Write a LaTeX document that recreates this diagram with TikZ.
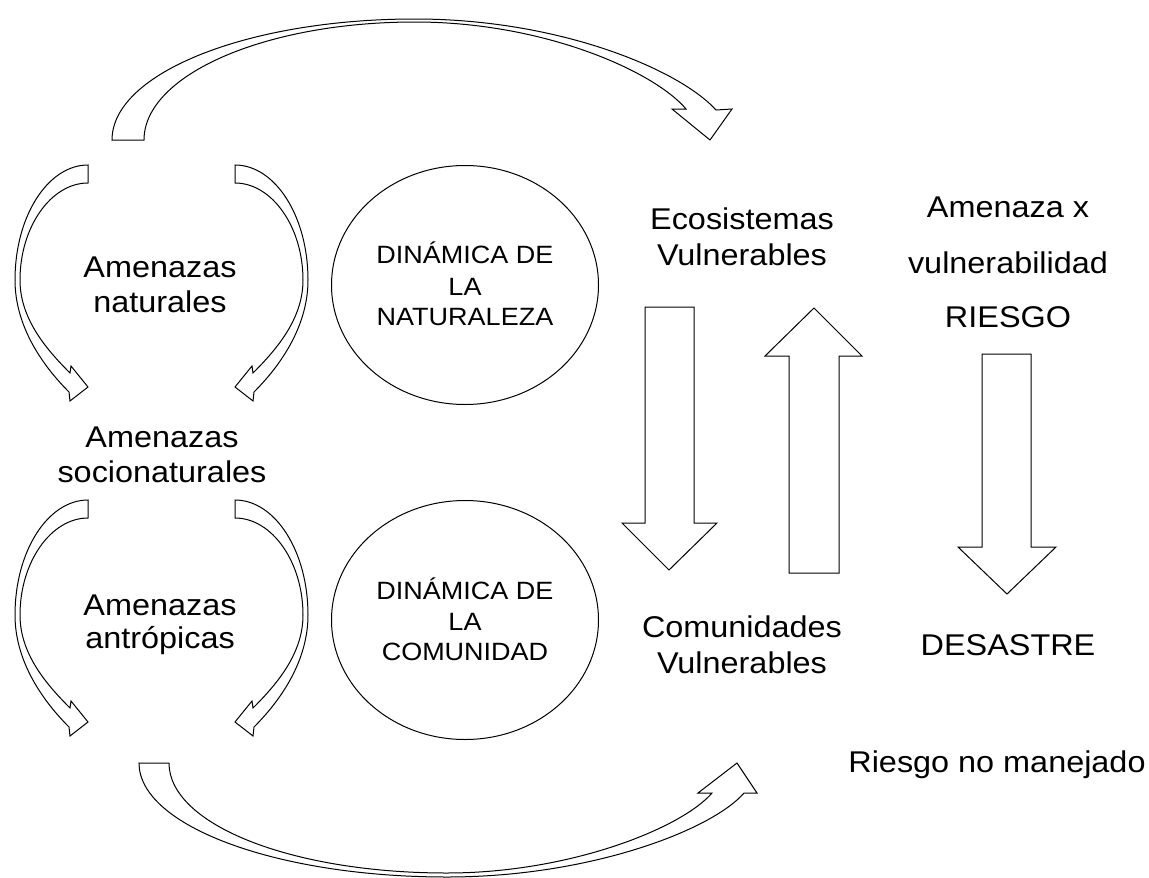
\documentclass[tikz,border=0pt]{standalone}
\usepackage{fontspec}
\setmainfont{Liberation Sans}
\usetikzlibrary{shapes.geometric}
\newcommand\wx[1]{\scalebox{1.08}[1]{#1}}
\tikzset{
  lbl/.style={inner sep=0pt, anchor=base, font=\fontsize{30}{36}\selectfont},
  slbl/.style={inner sep=0pt, anchor=base, font=\fontsize{25}{30}\selectfont},
  blockarrow/.style={draw=black, line width=1pt, fill=white, line join=miter},
  bubble/.style={draw=black, line width=1pt, ellipse, inner sep=0pt, minimum width=267pt, minimum height=239pt}
}
\begin{document}
\begin{tikzpicture}[x=1pt,y=-1pt]
\useasboundingbox[fill=white] (0,0) rectangle (1149,878);

% top big curved arrow
\draw[blockarrow] (112,140) .. controls (112,73) and (248,19) .. (415,19)
  .. controls (560,19) and (680,70) .. (716,110) -- (732,109) -- (710,140) -- (672,109) -- (686,109)
  .. controls (655,72) and (545,22) .. (415,22)
  .. controls (265,22) and (144,75) .. (144,140) -- cycle;

% bottom big curved arrow
\draw[blockarrow] (139,763) .. controls (139,826) and (277,877) .. (447,877)
  .. controls (590,877) and (712,830) .. (744,793) -- (757,793) -- (737,763) -- (698,793) -- (712,793)
  .. controls (682,828) and (570,873) .. (447,873)
  .. controls (290,873) and (169,824) .. (169,763) -- cycle;

% small curved arrows (right-curving and mirrored)
\foreach \dy in {0,335}{
  \begin{scope}[shift={(0,\dy)}]
    \draw[blockarrow] (235,165) .. controls (275,165) and (308,216) .. (308,280)
      .. controls (308,325) and (282,364) .. (254,392) -- (253,401) -- (235,387) -- (252,366) -- (253,373)
      .. controls (278,348) and (303,318) .. (303,280)
      .. controls (303,227) and (272,183) .. (235,183) -- cycle;
  \end{scope}
  \begin{scope}[shift={(323,\dy)}, xscale=-1]
    \draw[blockarrow] (235,165) .. controls (275,165) and (308,216) .. (308,280)
      .. controls (308,325) and (282,364) .. (254,392) -- (253,401) -- (235,387) -- (252,366) -- (253,373)
      .. controls (278,348) and (303,318) .. (303,280)
      .. controls (303,227) and (272,183) .. (235,183) -- cycle;
  \end{scope}
}

% straight block arrows
\draw[blockarrow] (645,307) -- (694,307) -- (694,523) -- (717,523) -- (669,570) -- (622,523) -- (645,523) -- cycle;
\draw[blockarrow] (789,573) -- (839,573) -- (839,356) -- (862,356) -- (814,308) -- (765,356) -- (789,356) -- cycle;
\draw[blockarrow] (982,354) -- (1031,354) -- (1031,547) -- (1056,547) -- (1007,594) -- (958,547) -- (982,547) -- cycle;

% ellipses
\node[bubble] (dnat) at (465,285) {};
\node[bubble] (dcom) at (465,620) {};

% ellipse texts
\node[slbl] (n1) at (465,263) {\wx{DINÁMICA DE}};
\node[slbl] (n2) at (465,295) {\wx{LA}};
\node[slbl] (n3) at (465,325) {\wx{NATURALEZA}};
\node[slbl] (c1) at (465,599) {\wx{DINÁMICA DE}};
\node[slbl] (c2) at (465,630) {\wx{LA}};
\node[slbl] (c3) at (465,660) {\wx{COMUNIDAD}};

% left labels
\node[lbl] (an1) at (160,277) {\wx{Amenazas}};
\node[lbl] (an2) at (160,312) {\wx{naturales}};
\node[lbl] (as1) at (162,447) {\wx{Amenazas}};
\node[lbl] (as2) at (162,482) {\wx{socionaturales}};
\node[lbl] (aa1) at (160,615) {\wx{Amenazas}};
\node[lbl] (aa2) at (160,648) {\wx{antrópicas}};

% middle labels
\node[lbl] (ev1) at (742,229) {\wx{Ecosistemas}};
\node[lbl] (ev2) at (742,265) {\wx{Vulnerables}};
\node[lbl] (cv1) at (742,637) {\wx{Comunidades}};
\node[lbl] (cv2) at (742,673) {\wx{Vulnerables}};

% right labels
\node[lbl] (r1) at (1008,217) {\wx{Amenaza x}};
\node[lbl] (r2) at (1008,273) {\wx{vulnerabilidad}};
\node[lbl] (r3) at (1008,327) {\wx{RIESGO}};
\node[lbl] (des) at (1008,655) {\wx{DESASTRE}};
\node[lbl] (rnm) at (997,772) {\wx{Riesgo no manejado}};
\end{tikzpicture}
\end{document}
